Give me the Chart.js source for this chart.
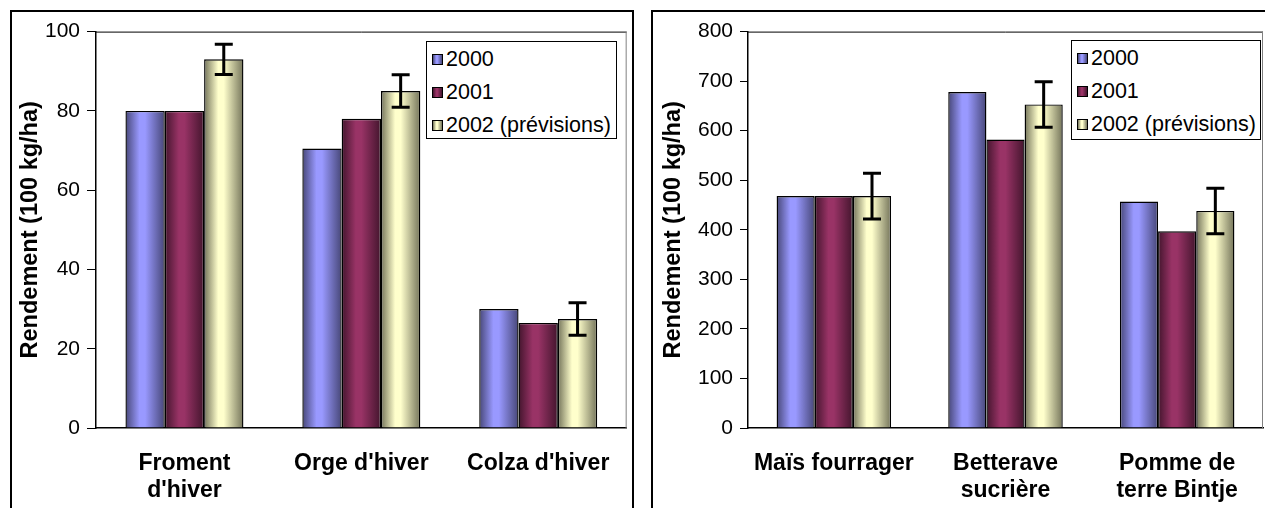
<!DOCTYPE html>
<html>
<head>
<meta charset="utf-8">
<script src="https://cdn.jsdelivr.net/npm/chart.js@4"></script>
<style>
  html, body { margin: 0; padding: 0; background: #fff; overflow: hidden; width: 1265px; height: 508px; }
  .panel { position: absolute; top: 10px; height: 530px; border: 2px solid #000; box-sizing: border-box; background: #fff; }
  .panel canvas { position: absolute; left: 0; top: 0; }
  .legend { position: absolute; border: 1.5px solid #000; box-sizing: border-box; background: #fff;
            font: 21.5px 'Liberation Sans', Arial, sans-serif; color: #000; }
  .legend .row { position: absolute; height: 24px; line-height: 24px; white-space: nowrap; }
  .legend .mark { position: absolute; width: 11px; height: 11px; border: 1px solid #000; box-sizing: border-box; }
</style>
</head>
<body>
<div class="panel" style="left:10px; width:624px;"><canvas id="chartLeft" width="620" height="506"></canvas></div>
<div class="panel" style="left:651px; width:620px;"><canvas id="chartRight" width="614" height="506"></canvas></div>
<div class="legend" id="legendLeft" style="left:426px; top:41px; width:191px; height:98px;"></div>
<div class="legend" id="legendRight" style="left:1071px; top:40px; width:190px; height:100px;"></div>
<script>
// series
const seriesNames = ['2000', '2001', '2002 (prévisions)'];
const baseColors = ['#9999ff', '#993366', '#ffffcc'];
const darkColors = ['#474778', '#43152d', '#74745a'];

// left chart: cereals / colza
const cropsLeft = [['Froment', "d'hiver"], "Orge d'hiver", "Colza d'hiver"];
const left2000 = [80, 70.5, 30];
const left2001 = [80, 78, 26.5];
const left2002 = [93, 85, 27.5];
const leftErr2002 = [3.8, 4.1, 4.1];
const leftTicks = { max: 100, step: 20 };

// right chart: root crops / maize
const cropsRight = ['Maïs fourrager', ['Betterave', 'sucrière'], ['Pomme de', 'terre Bintje']];
const right2000 = [468, 678, 457];
const right2001 = [468, 582, 397];
const right2002 = [468, 653, 438];
const rightErr2002 = [46, 46, 46];
const rightTicks = { max: 800, step: 100 };

const yTitle = 'Rendement (100 kg/ha)';
const FONT = "'Liberation Sans', Arial, sans-serif";

// cylinder-like shading, computed from the bar element after layout
const shadePlugin = {
    id: 'shade',
    beforeDatasetsDraw(chart) {
        const ctx = chart.ctx;
        chart.data.datasets.forEach((ds, di) => {
            chart.getDatasetMeta(di).data.forEach(bar => {
                const x0 = bar.x - bar.width / 2, x1 = bar.x + bar.width / 2;
                const g = ctx.createLinearGradient(x0, 0, x1, 0);
                g.addColorStop(0, darkColors[di]);
                g.addColorStop(0.36, baseColors[di]);
                g.addColorStop(0.5, baseColors[di]);
                g.addColorStop(1, darkColors[di]);
                bar.options = Object.assign({}, bar.options, { backgroundColor: g });
            });
        });
    }
};

// top / right edge of the plot area
const framePlugin = {
    id: 'frame',
    beforeDatasetsDraw(chart) {
        const { ctx, chartArea: a } = chart;
        ctx.save();
        ctx.lineWidth = 1;
        ctx.strokeStyle = '#000';
        ctx.beginPath();
        ctx.moveTo(a.left, a.top + 0.5);
        ctx.lineTo(a.right, a.top + 0.5);
        ctx.stroke();
        ctx.strokeStyle = '#808080';
        ctx.beginPath();
        ctx.moveTo(a.right - 0.5, a.top);
        ctx.lineTo(a.right - 0.5, a.bottom);
        ctx.stroke();
        ctx.restore();
    }
};

function errorPlugin(errs) {
    return {
        id: 'errbars',
        afterDatasetsDraw(chart) {
            const ctx = chart.ctx;
            const y = chart.scales.y;
            const vals = chart.data.datasets[2].data;
            ctx.save();
            ctx.strokeStyle = '#000';
            ctx.lineWidth = 3;
            chart.getDatasetMeta(2).data.forEach((bar, i) => {
                const top = y.getPixelForValue(vals[i] + errs[i]);
                const bot = y.getPixelForValue(vals[i] - errs[i]);
                ctx.beginPath();
                ctx.moveTo(bar.x, top); ctx.lineTo(bar.x, bot);
                ctx.moveTo(bar.x - 9, top); ctx.lineTo(bar.x + 9, top);
                ctx.moveTo(bar.x - 9, bot); ctx.lineTo(bar.x + 9, bot);
                ctx.stroke();
            });
            ctx.restore();
        }
    };
}

function createChart(id, labels, values, errs, ticks, axisW, padRight, titlePad, tickLen) {
    const ctx = document.getElementById(id).getContext('2d');
    const canvasH = ctx.canvas.height;
    new Chart(ctx, {
        type: 'bar',
        data: {
            labels: labels,
            datasets: values.map((v, i) => ({
                label: seriesNames[i],
                data: v,
                backgroundColor: baseColors[i],
                borderColor: '#000',
                borderWidth: 1.4,
                categoryPercentage: 0.667,
                barPercentage: 1.0
            }))
        },
        options: {
            responsive: false,
            animation: false,
            layout: { padding: { top: 16, right: padRight, left: 0, bottom: 0 } },
            plugins: { legend: { display: false }, tooltip: { enabled: false } },
            scales: {
                x: {
                    grid: { display: false, drawTicks: false },
                    border: { color: '#000', width: 1.5 },
                    ticks: {
                        color: '#000', padding: 22, maxRotation: 0, minRotation: 0, autoSkip: false,
                        font: { family: FONT, size: 23, weight: 'bold', lineHeight: 1.18 }
                    },
                    afterFit: s => { s.height = canvasH - 416; }
                },
                y: {
                    min: 0, max: ticks.max,
                    grid: { drawOnChartArea: false, drawTicks: true, tickLength: tickLen, color: '#000', lineWidth: 1 },
                    border: { color: '#000', width: 1.5 },
                    ticks: { stepSize: ticks.step, color: '#000', padding: 7, font: { family: FONT, size: 21 } },
                    title: {
                        display: true, text: yTitle, color: '#000',
                        padding: { top: titlePad, bottom: 0 },
                        font: { family: FONT, size: 23.5, weight: 'bold' }
                    },
                    afterFit: s => { s.width = axisW; }
                }
            }
        },
        plugins: [framePlugin, shadePlugin, errorPlugin(errs)]
    });
}

function buildLegend(id, markLeft, textLeft) {
    const box = document.getElementById(id);
    seriesNames.forEach((name, i) => {
        const row = document.createElement('div');
        row.className = 'row';
        row.style.top = (5 + i * 33) + 'px';
        row.style.left = '0px';
        const mark = document.createElement('span');
        mark.className = 'mark';
        mark.style.left = markLeft + 'px';
        mark.style.top = '7px';
        mark.style.background = `linear-gradient(to right, ${darkColors[i]} 0%, ${baseColors[i]} 36%, ${baseColors[i]} 50%, ${darkColors[i]} 100%)`;
        const txt = document.createElement('span');
        txt.style.position = 'absolute';
        txt.style.left = textLeft + 'px';
        txt.textContent = name;
        row.appendChild(mark);
        row.appendChild(txt);
        box.appendChild(row);
    });
}

createChart('chartLeft', cropsLeft, [left2000, left2001, left2002], leftErr2002, leftTicks, 84, 4, 4, 9);
createChart('chartRight', cropsRight, [right2000, right2001, right2002], rightErr2002, rightTicks, 95, 4, 6, 8);
buildLegend('legendLeft', 5, 19);
buildLegend('legendRight', 5, 19);
</script>
</body>
</html>
